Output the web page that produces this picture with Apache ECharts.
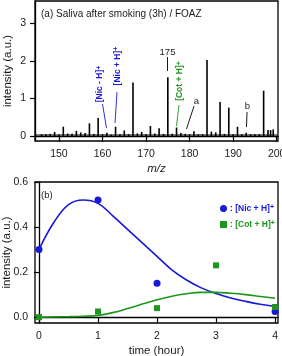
<!DOCTYPE html>
<html>
<head>
<meta charset="utf-8">
<script src="https://cdn.jsdelivr.net/npm/echarts@6/dist/echarts.min.js"></script>
<style>
  html, body { margin: 0; padding: 0; background: #fff; }
  #chart { width: 282px; height: 356px; }
</style>
</head>
<body>
<div id="chart"></div>
<script>
// (a) mass spectrum: m/z positions and peak heights
const mzValues = [146, 147, 148, 149, 150, 151, 152, 153, 154, 155, 156, 157, 158, 159, 160,
  161, 162, 163, 164, 165, 166, 167, 168, 169, 170, 171, 172, 173, 174, 175, 176, 177, 178,
  179, 180, 181, 182, 183, 184, 185, 186, 187, 188, 189, 190, 191, 192, 193, 194, 195, 196,
  197, 198, 198.6, 199.2];
const peakHeights = [0.05, 0.05, 0.06, 0.11, 0.04, 0.25, 0.07, 0.06, 0.14, 0.10, 0.08, 0.34, 0.06, 0.48, 0.05,
  0.09, 0.04, 0.25, 0.05, 0.15, 0.05, 1.43, 0.07, 0.11, 0.05, 0.27, 0.07, 0.21, 0.06, 1.57, 0.06, 0.23, 0.08,
  0.06, 0.05, 0.13, 0.05, 0.05, 2.03, 0.12, 0.10, 0.91, 0.06, 0.76, 0.05, 0.25, 0.05, 0.09, 0.05, 0.05, 0.05,
  1.21, 0.16, 0.16, 0.18];
const baselineMz = [144.6, 200.2];
const baselineLevel = [0.03, 0.03];
const mzTicks = [150, 160, 170, 180, 190, 200];
const spectrumTicks = [0, 1, 2, 3];

// (b) time course
const timePoints = [0, 1, 2, 3, 4];
const nicPoints = [0.30, 0.52, 0.15, null, 0.025];
const cotPoints = [0.0, 0.025, 0.04, 0.23, 0.045];
const fitTimes = [0, 0.25, 0.5, 0.75, 1.0, 1.25, 1.5, 1.75, 2.0, 2.25, 2.5, 2.75, 3.0, 3.25, 3.5, 3.75, 4.0];
const nicFit = [0.30, 0.42, 0.50, 0.52, 0.505, 0.45, 0.39, 0.33, 0.27, 0.21, 0.165, 0.13, 0.105, 0.085, 0.07, 0.057, 0.047];
const cotFit = [0.0, 0.001, 0.002, 0.004, 0.008, 0.02, 0.038, 0.058, 0.077, 0.093, 0.104, 0.11, 0.11, 0.106, 0.1, 0.092, 0.084];
const intensityTicks = [0, 0.2, 0.4, 0.6];

const FONT = '"Liberation Sans", Arial, sans-serif';
const BLUE = '#1818d8';
const GREEN = '#1c961c';
const INK = '#1a1a1a';

const pair = (xs, ys) => xs.map((x, i) => [x, ys[i]]).filter(p => p[1] != null);

const chart = echarts.init(document.getElementById('chart'), null, { renderer: 'canvas' });

const axisLine = { show: true, lineStyle: { color: '#000', width: 1.3 } };
const tickStyle = { lineStyle: { color: '#000', width: 1.2 } };
const labelStyle = { color: INK, fontSize: 10.5, fontFamily: FONT };
const nameStyle = { fontSize: 11.5, color: INK, fontFamily: FONT };
const supRich = {
  b: { fontSize: 8.5, fontWeight: 'bold', fontFamily: FONT },
  s: { fontSize: 7, fontWeight: 'bold', fontFamily: FONT, verticalAlign: 'top' }
};

// rotated peak labels
function ionLabel(text, x, y, color) {
  return {
    type: 'text', x: x, y: y, rotation: Math.PI / 2,
    style: {
      text: '{b|' + text + '}{s|+}',
      fill: color, align: 'center', verticalAlign: 'middle',
      rich: {
        b: Object.assign({}, supRich.b, { fill: color }),
        s: Object.assign({}, supRich.s, { fill: color })
      }
    }
  };
}
function leader(x1, y1, x2, y2, color) {
  return { type: 'line', shape: { x1, y1, x2, y2 }, style: { stroke: color, lineWidth: 0.9 } };
}
function plain(text, x, y, size, align) {
  return {
    type: 'text', x: x, y: y,
    style: { text: text, fill: INK, font: size + 'px ' + FONT, align: align || 'center', verticalAlign: 'middle' }
  };
}

const option = {
  animation: false,
  grid: [
    { left: 35, right: 4, top: 1, height: 140, show: true, borderColor: '#000', borderWidth: 1.3,
      outerBoundsMode: 'none', containLabel: false },
    { left: 35, right: 4, top: 182, height: 141, show: true, borderColor: '#000', borderWidth: 1.3,
      outerBoundsMode: 'none', containLabel: false }
  ],
  xAxis: [
    {
      type: 'value', gridIndex: 0, min: 144.5, max: 200.3,
      axisLine: axisLine, splitLine: { show: false },
      axisTick: Object.assign({ customValues: mzTicks, length: 6 }, tickStyle),
      axisLabel: Object.assign({ customValues: mzTicks, margin: 8 }, labelStyle),
      name: 'm/z', nameLocation: 'middle', nameGap: 22, nameMoveOverlap: false,
      nameTextStyle: Object.assign({}, nameStyle, { fontStyle: 'italic' })
    },
    {
      type: 'value', gridIndex: 1, min: -0.068, max: 4.05,
      axisLine: axisLine, splitLine: { show: false },
      axisTick: Object.assign({ customValues: timePoints, length: 6 }, tickStyle),
      axisLabel: Object.assign({ customValues: timePoints, margin: 8 }, labelStyle),
      name: 'time (hour)', nameLocation: 'middle', nameGap: 22, nameMoveOverlap: false,
      nameTextStyle: nameStyle
    }
  ],
  yAxis: [
    {
      type: 'value', gridIndex: 0, min: -0.13, max: 3.6,
      axisLine: axisLine, splitLine: { show: false },
      axisTick: Object.assign({ customValues: spectrumTicks, length: 5 }, tickStyle),
      axisLabel: Object.assign({ customValues: spectrumTicks, margin: 9 }, labelStyle),
      name: 'intensity (a.u.)', nameLocation: 'middle', nameRotate: 90, nameGap: 21,
      nameMoveOverlap: false, nameTextStyle: nameStyle
    },
    {
      type: 'value', gridIndex: 1, min: -0.026, max: 0.6,
      axisLine: axisLine, splitLine: { show: false },
      axisTick: Object.assign({ customValues: intensityTicks, length: 5 }, tickStyle),
      axisLabel: Object.assign({ customValues: intensityTicks, margin: 7,
        formatter: v => v.toFixed(1) }, labelStyle),
      name: 'intensity (a.u.)', nameLocation: 'middle', nameRotate: 90, nameGap: 22,
      nameMoveOverlap: false, nameTextStyle: nameStyle
    }
  ],
  legend: {
    orient: 'vertical', left: 215, top: 199, itemWidth: 7, itemHeight: 7, itemGap: 7,
    data: [
      { name: 'nic', icon: 'circle', textStyle: { color: BLUE } },
      { name: 'cot', icon: 'rect', textStyle: { color: GREEN } }
    ],
    formatter: name => name === 'nic' ? '{b|: [Nic + H]}{s|+}' : '{b|: [Cot + H]}{s|+}',
    textStyle: { fontSize: 8.5, fontWeight: 'bold', fontFamily: FONT, padding: [0, 0, 0, -2], rich: supRich }
  },
  series: [
    {
      type: 'bar', xAxisIndex: 0, yAxisIndex: 0, barWidth: 1.6,
      itemStyle: { color: '#000' }, silent: true,
      data: pair(mzValues, peakHeights)
    },
    {
      type: 'line', xAxisIndex: 0, yAxisIndex: 0, symbol: 'none',
      lineStyle: { color: '#000', width: 1.2 },
      data: pair(baselineMz, baselineLevel)
    },
    {
      type: 'line', xAxisIndex: 1, yAxisIndex: 1, symbol: 'none', smooth: 0.4,
      lineStyle: { color: BLUE, width: 1.6 }, data: pair(fitTimes, nicFit), z: 2
    },
    {
      type: 'line', xAxisIndex: 1, yAxisIndex: 1, symbol: 'none', smooth: 0.4,
      lineStyle: { color: GREEN, width: 1.6 }, data: pair(fitTimes, cotFit), z: 2
    },
    {
      name: 'nic', type: 'scatter', xAxisIndex: 1, yAxisIndex: 1, symbol: 'circle', symbolSize: 7,
      itemStyle: { color: BLUE, opacity: 1 }, data: pair(timePoints, nicPoints), z: 3
    },
    {
      name: 'cot', type: 'scatter', xAxisIndex: 1, yAxisIndex: 1, symbol: 'rect', symbolSize: 6,
      itemStyle: { color: GREEN, opacity: 1 }, data: pair(timePoints, cotPoints), z: 3
    }
  ],
  graphic: [
    plain('(a) Saliva after smoking (3h) / FOAZ', 41, 14, 10, 'left'),
    plain('(b)', 41, 195, 9.6, 'left'),
    plain('175', 167.5, 52, 9.6),
    leader(167.5, 57, 167.5, 71, '#000'),
    ionLabel('[Nic - H]', 100, 84, BLUE),
    leader(102.5, 104, 106.5, 128, BLUE),
    ionLabel('[Nic + H]', 117.5, 66, BLUE),
    leader(117, 92, 115, 123, BLUE),
    ionLabel('[Cot + H]', 180, 81, GREEN),
    leader(179, 105, 176.5, 126, GREEN),
    plain('a', 196.5, 101, 9.6),
    leader(194, 106, 186.5, 129, '#000'),
    plain('b', 247.5, 106, 9.6),
    leader(247, 112, 246.5, 127, '#000')
  ]
};

chart.setOption(option);
</script>
</body>
</html>
